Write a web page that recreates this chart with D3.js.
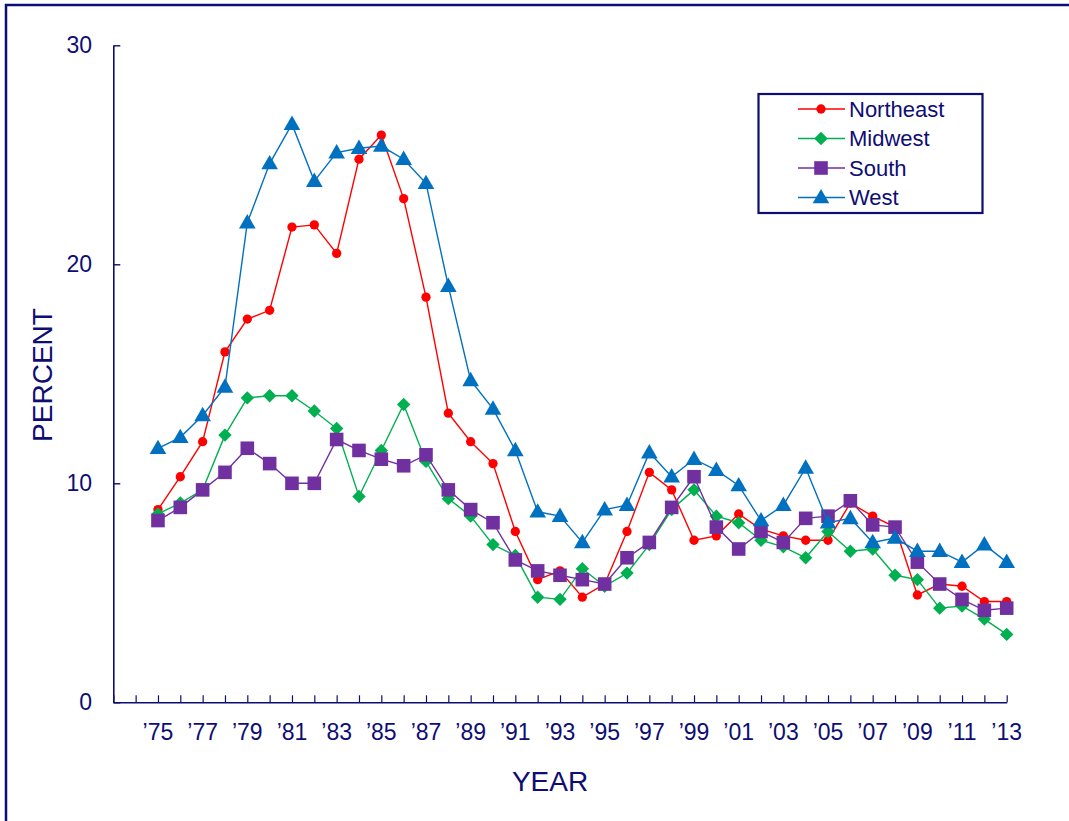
<!DOCTYPE html>
<html>
<head>
<meta charset="utf-8">
<script src="https://cdn.jsdelivr.net/npm/d3@7/dist/d3.min.js"></script>
<style>
  html, body { margin: 0; padding: 0; background: #fff; }
  svg { display: block; font-family: "Liberation Sans", Arial, sans-serif; }
</style>
</head>
<body>
<svg id="chart" width="1069" height="821"></svg>
<script>
const years = d3.range(1975, 2014);
const tickYears = [1975,1977,1979,1981,1983,1985,1987,1989,1991,1993,1995,1997,1999,2001,2003,2005,2007,2009,2011,2013];
const yTicks = [0, 10, 20, 30];

const northeast = [8.8,10.3,11.9,16.0,17.5,17.9,21.7,21.8,20.5,24.8,25.9,23.0,18.5,13.2,11.9,10.9,7.8,5.6,6.0,4.8,5.4,7.8,10.5,9.7,7.4,7.6,8.6,7.9,7.6,7.4,7.4,9.1,8.5,8.0,4.9,5.4,5.3,4.6,4.6];
const midwest   = [8.6,9.1,9.7,12.2,13.9,14.0,14.0,13.3,12.5,9.4,11.5,13.6,11.0,9.3,8.5,7.2,6.7,4.8,4.7,6.1,5.3,5.9,7.2,8.8,9.7,8.5,8.2,7.4,7.1,6.6,7.8,6.9,7.0,5.8,5.6,4.3,4.4,3.8,3.1];
const south     = [8.3,8.9,9.7,10.5,11.6,10.9,10.0,10.0,12.0,11.5,11.1,10.8,11.3,9.7,8.8,8.2,6.5,6.0,5.8,5.6,5.4,6.6,7.3,8.9,10.3,8.0,7.0,7.8,7.3,8.4,8.5,9.2,8.1,8.0,6.4,5.4,4.7,4.2,4.3];
const west      = [11.6,12.1,13.1,14.4,21.9,24.6,26.4,23.8,25.1,25.3,25.4,24.8,23.7,19.0,14.7,13.4,11.5,8.7,8.5,7.3,8.8,9.0,11.4,10.3,11.1,10.6,9.9,8.3,9.0,10.7,8.2,8.4,7.3,7.5,6.9,6.9,6.4,7.2,6.4];

const seriesNames = ["Northeast", "Midwest", "South", "West"];
const seriesValues = [northeast, midwest, south, west];
const colors = ["#ff0000", "#00b050", "#7030a0", "#0070c0"];
const symbols = [d3.symbolCircle, d3.symbolSquare, d3.symbolSquare, d3.symbolTriangle];
const symbolSizes = [68, 90, 185, 120];
const symbolRot = [0, 45, 0, 0];
const symbolDy = [0, 0, 0, 1];

const navy = "#0d0d73";
const svg = d3.select("#chart");

// outer frame (only left/top visible in the crop)
svg.append("rect").attr("x", 6).attr("y", 5).attr("width", 1200).attr("height", 1000)
  .attr("fill", "none").attr("stroke", navy).attr("stroke-width", 2.5);

const x = d3.scaleLinear().domain([1973, 2013]).range([113.3, 1006.7]);
const y = d3.scaleLinear().domain([0, 30]).range([702.3, 45.3]);

// axes
const xAxis = d3.axisBottom(x).tickValues(d3.range(1973, 2014)).tickSize(-7).tickFormat("").tickSizeOuter(0);
const gx = svg.append("g").attr("transform", `translate(0,${y(0)})`).call(xAxis);
gx.select(".domain").attr("stroke", navy).attr("stroke-width", 1.6);
gx.selectAll(".tick line").attr("stroke", navy).attr("stroke-width", 1.2);

const yAxis = d3.axisLeft(y).tickValues(yTicks).tickSize(-7).tickFormat("").tickSizeOuter(0);
const gy = svg.append("g").attr("transform", `translate(${x(1973)},0)`).call(yAxis);
gy.select(".domain").attr("stroke", navy).attr("stroke-width", 1.6);
gy.selectAll(".tick line").attr("stroke", navy).attr("stroke-width", 1.4);

// tick labels
svg.append("g").selectAll("text").data(tickYears).join("text")
  .attr("x", d => x(d)).attr("y", 740)
  .attr("text-anchor", "middle").attr("font-size", 23).attr("fill", navy)
  .text(d => "\u2019" + String(d % 100).padStart(2, "0"));

svg.append("g").selectAll("text").data(yTicks).join("text")
  .attr("x", 92).attr("y", d => y(d) + 8)
  .attr("text-anchor", "end").attr("font-size", 23).attr("fill", navy)
  .text(d => d);

// axis titles
svg.append("text").attr("x", 550).attr("y", 790.5).attr("text-anchor", "middle")
  .attr("font-size", 28).attr("fill", navy).text("YEAR");
svg.append("text").attr("transform", "translate(52,375) rotate(-90)").attr("text-anchor", "middle")
  .attr("font-size", 28).attr("fill", navy).text("PERCENT");

// series
const line = d3.line().x((d, i) => x(years[i])).y(d => y(d));
seriesValues.forEach((vals, si) => {
  const g = svg.append("g");
  g.append("path").datum(vals).attr("d", line)
    .attr("fill", "none").attr("stroke", colors[si]).attr("stroke-width", 1.4);
  const sym = d3.symbol().type(symbols[si]).size(symbolSizes[si]);
  g.selectAll("path.m").data(vals).join("path").attr("class", "m")
    .attr("transform", (d, i) => `translate(${x(years[i])},${y(d) + symbolDy[si]}) rotate(${symbolRot[si]})`)
    .attr("d", sym()).attr("fill", colors[si]);
});

// legend
const lg = svg.append("g");
lg.append("rect").attr("x", 758.5).attr("y", 94).attr("width", 224).attr("height", 119)
  .attr("fill", "#fff").attr("stroke", navy).attr("stroke-width", 2.2);
seriesNames.forEach((name, si) => {
  const cy = 109 + si * 29.5;
  lg.append("line").attr("x1", 798).attr("x2", 845).attr("y1", cy).attr("y2", cy)
    .attr("stroke", colors[si]).attr("stroke-width", 1.4);
  lg.append("path").attr("transform", `translate(821,${cy + symbolDy[si]}) rotate(${symbolRot[si]})`)
    .attr("d", d3.symbol().type(symbols[si]).size(symbolSizes[si])()).attr("fill", colors[si]);
  lg.append("text").attr("x", 849).attr("y", cy + 7.5).attr("font-size", 22).attr("fill", navy).text(name);
});
</script>
</body>
</html>
